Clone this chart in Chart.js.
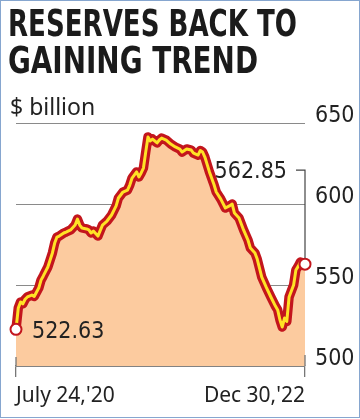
<!DOCTYPE html>
<html>
<head>
<meta charset="utf-8">
<script src="https://cdn.jsdelivr.net/npm/chart.js@4/dist/chart.umd.min.js"></script>
<style>
  html, body { margin: 0; padding: 0; background: #fff; }
  #wrap { position: relative; width: 360px; height: 419px; overflow: hidden; }
  #frame { position: absolute; left: 0; top: 0; width: 358px; height: 416px; border: 1px solid #86a6cf; pointer-events: none; }
  .title { position: absolute; left: 8px; font: bold 38px "Liberation Sans Narrow", "DejaVu Sans Condensed", sans-serif;
           line-height: 38px; color: #1b1b1b; white-space: nowrap; transform-origin: 0 0; }
  #t1 { top: 4px; }
  #t2 { top: 41px; }
  #unit { position: absolute; left: 10px; top: 95px; font: 23px "Noto Sans", sans-serif; line-height: 1; color: #222; }
  canvas { position: absolute; left: 0; top: 0; }
</style>
</head>
<body>
<div id="wrap">
  <canvas id="canvas" width="360" height="419"></canvas>
  <div class="title" id="t1">RESERVES BACK TO</div>
  <div class="title" id="t2">GAINING TREND</div>
  <div id="unit">$ billion</div>
  <div id="frame"></div>
</div>
<script>
// weekly forex reserves, $ billion (week 0 = July 24, 2020; week 127 = Dec 30, 2022)
const weeks = [0, 1, 2, 3, 4, 5, 7, 8, 10, 11, 12, 14, 16, 17, 18, 19, 21, 22, 24, 26, 27, 28, 29, 31, 32, 33, 34, 36,
  38, 40, 42, 44, 45, 47, 49, 50, 51, 53, 54, 55, 56, 57, 58, 59, 60, 62, 63, 64, 66, 68, 70, 72, 73, 75, 77, 78, 80,
  81, 82, 83, 85, 87, 88, 90, 92, 94, 95, 96, 98, 100, 102, 103, 105, 106, 108, 110, 112, 114, 115, 116, 117, 118,
  119, 120, 122, 123, 124, 125, 127];
const reserves = [522.63, 535.8, 539.5, 538.4, 541.2, 542.6, 543.8, 542.9, 548.1, 553.0, 555.6, 561.1, 569.8, 575.9,
  579.6, 580.2, 582.1, 582.7, 584.0, 587.0, 590.7, 587.0, 585.2, 584.6, 584.0, 582.1, 583.3, 580.2, 587.0, 589.5,
  593.2, 598.8, 603.7, 607.4, 608.6, 611.7, 616.0, 619.8, 616.7, 619.2, 622.2, 632.0, 641.4, 638.9, 640.1, 637.7,
  639.5, 640.7, 639.5, 637.0, 635.2, 633.9, 632.1, 634.0, 633.3, 631.4, 630.2, 633.0, 632.1, 629.0, 619.8, 612.0,
  607.4, 603.0, 597.5, 599.0, 600.0, 594.4, 591.4, 584.0, 577.5, 572.8, 569.8, 566.0, 554.9, 548.5, 542.6, 537.0,
  534.6, 528.4, 524.1, 529.6, 527.5, 542.6, 550.0, 559.3, 561.5, 564.2, 562.85];
const dateLabels = ["July 24,'20", "Dec 30,'22"];
const yTicks = [500, 550, 600, 650];

const RED = '#c3161d';
const YELLOW = '#ffe226';
const FILL = '#fccb9f';
const numFont = '"Liberation Sans Narrow", "DejaVu Sans Condensed", sans-serif';

// fit each title line to its width in the reference
[['t1', 289], ['t2', 250]].forEach(([id, w]) => {
  const el = document.getElementById(id);
  el.style.transform = 'scaleX(' + (w / el.getBoundingClientRect().width) + ')';
});

const points = weeks.map((w, i) => ({ x: w, y: reserves[i] }));
const last = points.length - 1;

const callouts = {
  id: 'callouts',
  afterDatasetsDraw(chart) {
    const { ctx, scales: { x, y }, chartArea } = chart;
    const x0 = x.getPixelForValue(weeks[0]), y0 = y.getPixelForValue(reserves[0]);
    const x1 = x.getPixelForValue(weeks[last]), y1 = y.getPixelForValue(reserves[last]);
    ctx.save();
    // end tick marks on the baseline
    ctx.strokeStyle = '#777';
    ctx.lineWidth = 1.3;
    ctx.beginPath();
    ctx.moveTo(x0, chartArea.bottom - 9); ctx.lineTo(x0, chartArea.bottom);
    ctx.moveTo(x1, chartArea.bottom - 11); ctx.lineTo(x1, chartArea.bottom);
    ctx.stroke();
    // leader for the last value
    ctx.strokeStyle = '#444';
    ctx.lineWidth = 1.2;
    ctx.beginPath();
    ctx.moveTo(x1 - 9, y1 - 94); ctx.lineTo(x1, y1 - 94); ctx.lineTo(x1, y1 - 6);
    ctx.stroke();
    ctx.fillStyle = '#222';
    ctx.font = '23px ' + numFont;
    ctx.textBaseline = 'middle';
    ctx.textAlign = 'left';
    ctx.fillText(reserves[0].toFixed(2), x0 + 16, y0 + 3);
    ctx.textAlign = 'right';
    ctx.fillText(reserves[last].toFixed(2), x1 - 18, y1 - 92);
    ctx.restore();
  }
};

new Chart(document.getElementById('canvas'), {
  type: 'line',
  data: {
    datasets: [
      {
        data: points,
        borderColor: YELLOW,
        borderWidth: 3,
        borderJoinStyle: 'round',
        tension: 0,
        fill: false,
        clip: false,
        pointRadius: ctx => (ctx.dataIndex === 0 || ctx.dataIndex === last) ? 5.5 : 0,
        pointBackgroundColor: '#fff',
        pointBorderColor: RED,
        pointBorderWidth: 2,
      },
      {
        data: points,
        borderColor: RED,
        borderWidth: 9.5,
        borderJoinStyle: 'round',
        borderCapStyle: 'round',
        tension: 0,
        backgroundColor: FILL,
        fill: 'start',
        clip: false,
        pointRadius: 0,
      },
    ],
  },
  options: {
    responsive: false,
    animation: false,
    events: [],
    layout: { padding: { left: 16, top: 123, right: 5, bottom: 0 } },
    plugins: { legend: { display: false }, tooltip: { enabled: false }, title: { display: false } },
    scales: {
      x: {
        type: 'linear',
        min: weeks[0],
        max: weeks[last],
        afterBuildTicks: s => { s.ticks = [{ value: weeks[0] }, { value: weeks[last] }]; },
        afterFit: s => { s.height = 53; },
        ticks: {
          align: 'inner',
          padding: 6,
          color: '#222',
          font: { family: '"Noto Sans", sans-serif', size: 21 },
          callback: (v, i) => dateLabels[i],
        },
        grid: { drawOnChartArea: false, tickLength: 11, color: '#777', lineWidth: 1.3 },
        border: { display: true, color: '#7a7a7a', width: 1.5 },
      },
      y: {
        position: 'right',
        min: 500,
        max: 650,
        afterBuildTicks: s => { s.ticks = yTicks.map(v => ({ value: v })); },
        afterFit: s => { s.width = 50; },
        ticks: {
          padding: 10,
          labelOffset: -7,
          color: '#222',
          font: { family: numFont, size: 23 },
        },
        grid: { drawTicks: false, color: '#8a8a8a', lineWidth: 1 },
        border: { display: false },
      },
    },
  },
  plugins: [callouts],
});
</script>
</body>
</html>
